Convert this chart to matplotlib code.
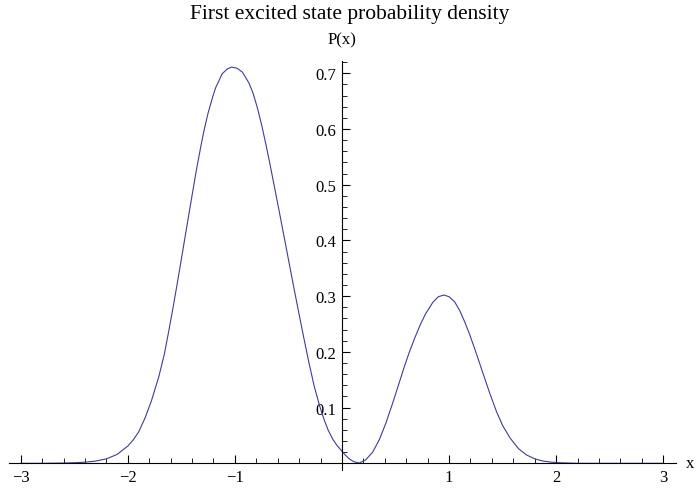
import numpy as np
import matplotlib.pyplot as plt
from matplotlib.ticker import MultipleLocator, FixedLocator

# probability density samples, P(x)
x_vals = [-3.0, -2.8, -2.6, -2.5, -2.4, -2.3, -2.2, -2.1, -2.0, -1.95, -1.9, -1.84,
          -1.78, -1.71, -1.66, -1.62, -1.58, -1.54, -1.49, -1.45, -1.40, -1.36,
          -1.32, -1.29, -1.25, -1.21, -1.18, -1.119, -1.07, -1.031, -0.98, -0.93,
          -0.87, -0.83, -0.79, -0.75, -0.71, -0.68, -0.65, -0.60, -0.557, -0.50,
          -0.447, -0.40, -0.353, -0.31, -0.26, -0.21, -0.166, -0.13, -0.088, -0.05,
          -0.01, 0.03, 0.068, 0.11, 0.16, 0.22, 0.287, 0.35, 0.41, 0.47, 0.537, 0.58,
          0.63, 0.68, 0.73, 0.78, 0.849, 0.90, 0.952, 1.00, 1.052, 1.10, 1.146, 1.193,
          1.25, 1.318, 1.38, 1.443, 1.50, 1.568, 1.65, 1.724, 1.80, 1.88, 1.96, 2.04,
          2.2, 2.4, 2.7, 3.0]
p_vals = [0.0, 0.0, 0.0005, 0.001, 0.002, 0.004, 0.008, 0.016, 0.031, 0.042, 0.056, 0.081,
          0.112, 0.156, 0.195, 0.235, 0.277, 0.321, 0.378, 0.424, 0.481, 0.526,
          0.567, 0.596, 0.629, 0.656, 0.674, 0.699, 0.708, 0.711, 0.709, 0.702,
          0.683, 0.664, 0.638, 0.607, 0.572, 0.544, 0.515, 0.466, 0.423, 0.366,
          0.313, 0.267, 0.222, 0.182, 0.139, 0.104, 0.078, 0.060, 0.044, 0.033,
          0.024, 0.015, 0.008, 0.003, 0.0005, 0.006, 0.020, 0.043, 0.072, 0.106, 0.146, 0.172,
          0.200, 0.225, 0.248, 0.268, 0.289, 0.299, 0.302, 0.299, 0.290, 0.274, 0.254, 0.231,
          0.200, 0.161, 0.126, 0.093, 0.068, 0.046, 0.026, 0.015, 0.008, 0.004, 0.002, 0.001,
          0.0, 0.0, 0.0, 0.0]

x_major = [-3, -2, -1, 1, 2, 3]
y_major = [0.1, 0.2, 0.3, 0.4, 0.5, 0.6, 0.7]

plt.rcParams['font.family'] = 'Liberation Serif'

fig = plt.figure(figsize=(6.98, 4.89), dpi=100)
ax = fig.add_axes([9 / 698, 18 / 489, 667 / 698, 409 / 489])

ax.plot(x_vals, p_vals, color='#3d3d99', lw=0.8)

ax.set_xlim(-3.11, 3.12)
ax.set_ylim(-0.012, 0.722)

for side in ['top', 'right']:
    ax.spines[side].set_visible(False)
ax.spines['left'].set_position(('data', 0))
ax.spines['bottom'].set_position(('data', 0))
for side in ['left', 'bottom']:
    ax.spines[side].set_linewidth(0.8)

ax.xaxis.set_major_locator(FixedLocator(x_major))
ax.xaxis.set_minor_locator(MultipleLocator(0.2))
ax.yaxis.set_major_locator(FixedLocator(y_major))
ax.yaxis.set_minor_locator(MultipleLocator(0.02))
ax.set_xticklabels(['\u22123', '\u22122', '\u22121', '1', '2', '3'])
ax.set_yticklabels([f'{v:.1f}' for v in y_major])

ax.tick_params(which='major', direction='in', length=6, width=0.8, labelsize=12, pad=4)
ax.tick_params(which='minor', direction='in', length=3.5, width=0.6)

fig.text(690 / 698, 1 - 464 / 489, 'x', fontsize=12, ha='center', va='center')
fig.text(342 / 698, 1 - 40 / 489, 'P(x)', fontsize=12, ha='center', va='center')
fig.text(350 / 698, 1 - 14 / 489, 'First excited state probability density', fontsize=15.5,
         ha='center', va='center')

fig.savefig('out.png', dpi=100)
